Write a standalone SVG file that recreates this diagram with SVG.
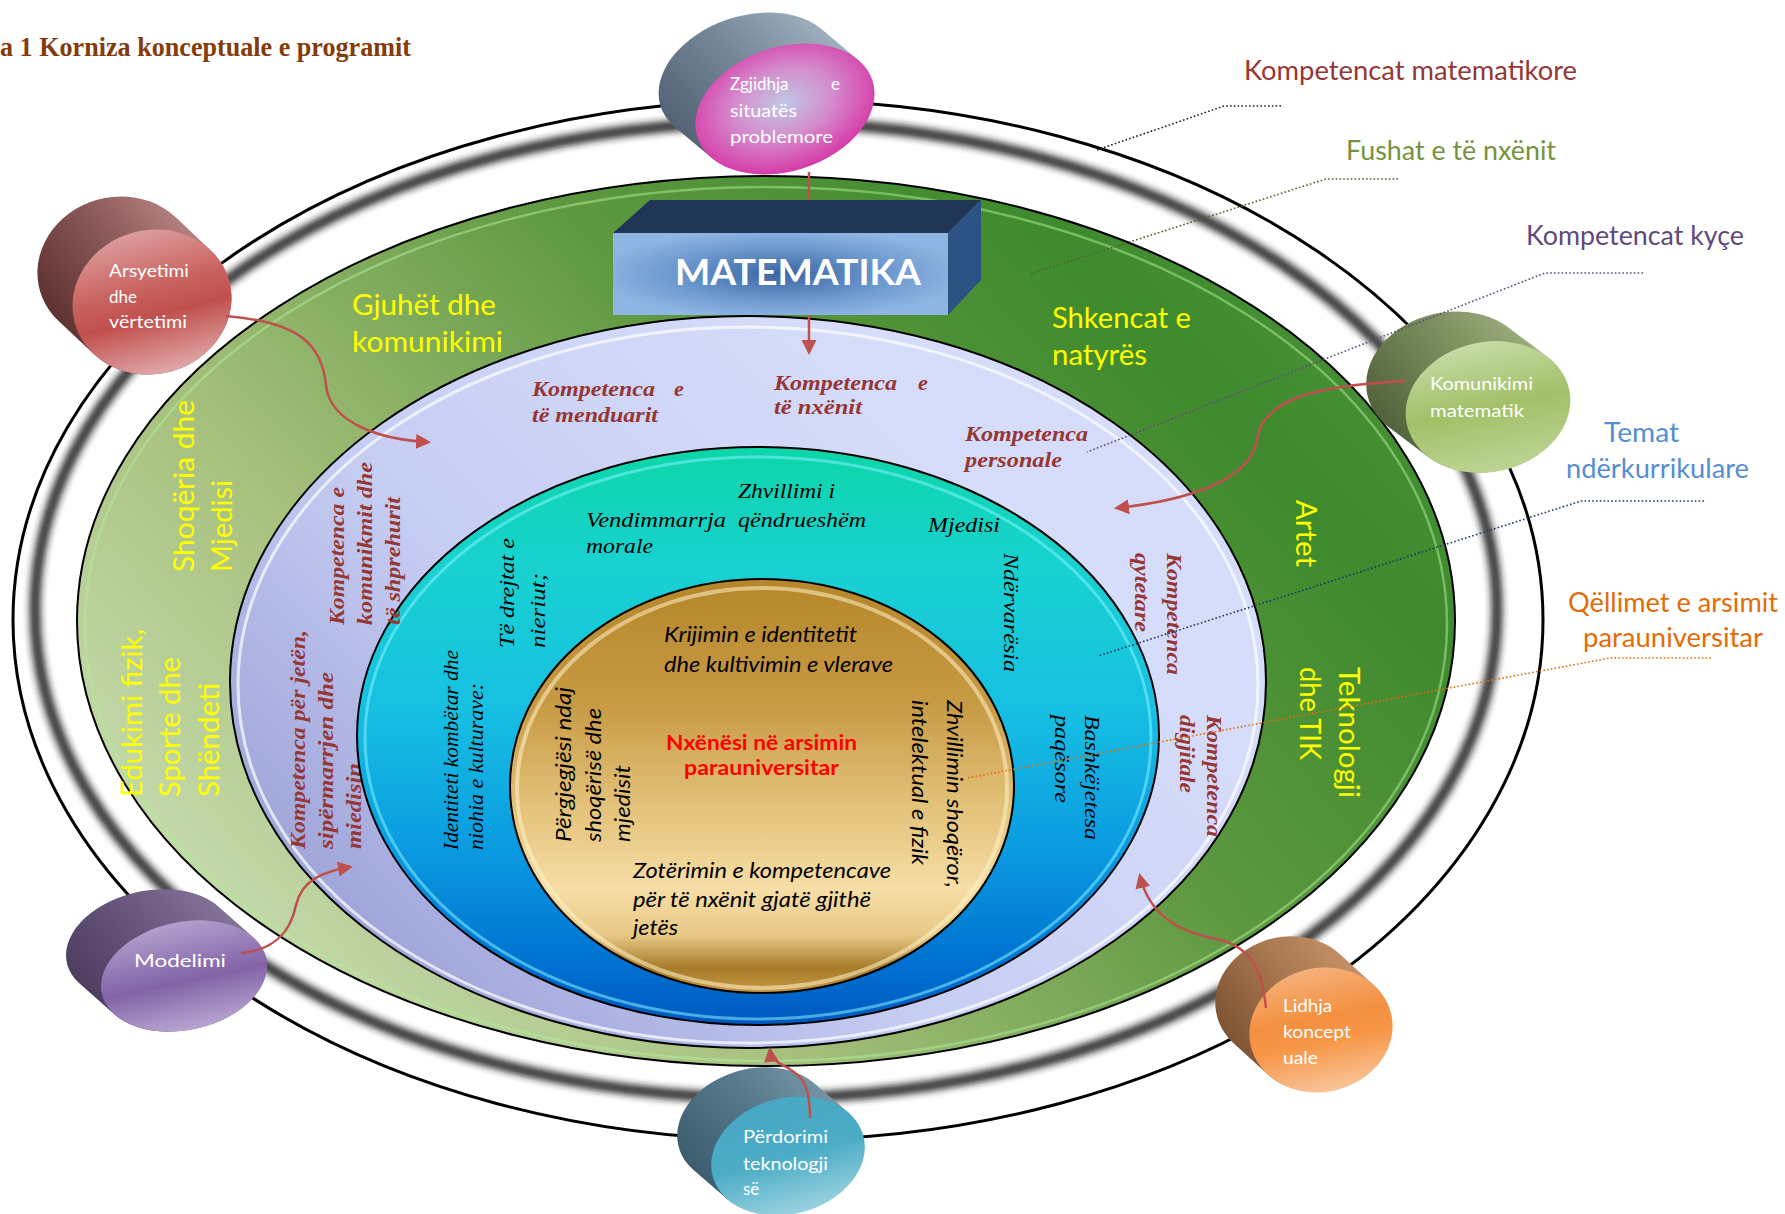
<svg xmlns="http://www.w3.org/2000/svg" width="1785" height="1214" viewBox="0 0 1785 1214">
<style>
.nt{font-family:Lato,"Open Sans",sans-serif;fill:#fff;font-size:17px}
.yl{font-family:Lato,"Open Sans",sans-serif;fill:#ffff00;font-size:28px}
.kr{font-family:"Liberation Serif",serif;font-weight:bold;font-style:italic;fill:#953735;font-size:22px}
.bi{font-family:"Liberation Serif",serif;font-style:italic;fill:#000;font-size:22px}
.gi{font-family:Lato,"Open Sans",sans-serif;font-style:italic;fill:#000;font-size:21px}
.rc{font-family:Lato,"Open Sans",sans-serif;font-weight:bold;fill:#ff0000;font-size:20px}
.rl{font-family:Lato,"Open Sans",sans-serif;font-size:26px}
.ring{stroke:#000;stroke-width:2}
.red{fill:none;stroke:#c0504d;stroke-width:2.5}
.dot{fill:none;stroke-width:1.6;stroke-dasharray:1.6 2.2}
</style>
<defs>
<marker id="arr" viewBox="0 0 10 10" refX="8" refY="5" markerWidth="6" markerHeight="6" orient="auto"><path d="M0,0 L10,5 L0,10 z" fill="#c0504d"/></marker>
<filter id="blur" x="-5%" y="-5%" width="110%" height="110%"><feGaussianBlur stdDeviation="3.5"/></filter>
<linearGradient id="gGreen" x1="0" y1="0.8" x2="1" y2="0.2"><stop offset="0" stop-color="#cde0b8"/><stop offset="0.3" stop-color="#a6c07c"/><stop offset="0.6" stop-color="#5d9840"/><stop offset="0.85" stop-color="#3f8a2e"/><stop offset="1" stop-color="#4a9238"/></linearGradient>
<linearGradient id="gLav" x1="0" y1="0.7" x2="0.7" y2="0.2"><stop offset="0" stop-color="#9ea3d8"/><stop offset="0.45" stop-color="#c6cdf3"/><stop offset="1" stop-color="#d6ddfa"/></linearGradient>
<linearGradient id="gBlue" x1="0" y1="0" x2="0" y2="1"><stop offset="0" stop-color="#0dd6a8"/><stop offset="0.2" stop-color="#18d2d0"/><stop offset="0.45" stop-color="#17c0e2"/><stop offset="0.7" stop-color="#0a9ae0"/><stop offset="0.9" stop-color="#0070d0"/><stop offset="1" stop-color="#0058c0"/></linearGradient>
<linearGradient id="gGold" x1="0" y1="0" x2="0" y2="1"><stop offset="0" stop-color="#b5862a"/><stop offset="0.3" stop-color="#c79a44"/><stop offset="0.55" stop-color="#e3c27a"/><stop offset="0.75" stop-color="#f6dea6"/><stop offset="0.86" stop-color="#e8c886"/><stop offset="0.94" stop-color="#a67a28"/><stop offset="1" stop-color="#c89a48"/></linearGradient>
<radialGradient id="boxFront" cx="0.5" cy="0.5" r="0.55"><stop offset="0" stop-color="#3a659f"/><stop offset="0.6" stop-color="#6f9ad0"/><stop offset="1" stop-color="#8fb5e2"/></radialGradient>
<radialGradient id="faceZ" cx="0.5" cy="0.45" r="0.55"><stop offset="0" stop-color="#c0c8e6"/><stop offset="0.5" stop-color="#d48ccc"/><stop offset="1" stop-color="#d63aa8"/></radialGradient>
<linearGradient id="bodyZ" x1="0" y1="0.6" x2="1" y2="0.2"><stop offset="0" stop-color="#4f5e70"/><stop offset="0.5" stop-color="#76889a"/><stop offset="1" stop-color="#aebdcc"/></linearGradient>
<linearGradient id="faceA" x1="0" y1="0" x2="0" y2="1"><stop offset="0" stop-color="#dc9c9c"/><stop offset="0.4" stop-color="#c9625f"/><stop offset="0.6" stop-color="#c0504d"/><stop offset="1" stop-color="#e0a8a8"/></linearGradient>
<linearGradient id="bodyA" x1="0" y1="0.6" x2="1" y2="0.2"><stop offset="0" stop-color="#5a2e2e"/><stop offset="0.5" stop-color="#8a5858"/><stop offset="1" stop-color="#c79090"/></linearGradient>
<linearGradient id="faceK" x1="0" y1="0" x2="0" y2="1"><stop offset="0" stop-color="#c5dba6"/><stop offset="0.5" stop-color="#a2c068"/><stop offset="1" stop-color="#bcd494"/></linearGradient>
<linearGradient id="bodyK" x1="0" y1="0.6" x2="1" y2="0.2"><stop offset="0" stop-color="#4e5e38"/><stop offset="0.5" stop-color="#7a8c5c"/><stop offset="1" stop-color="#a8b88a"/></linearGradient>
<linearGradient id="faceM" x1="0" y1="0" x2="0" y2="1"><stop offset="0" stop-color="#b2a0cc"/><stop offset="0.45" stop-color="#8a6eb0"/><stop offset="0.55" stop-color="#8264a6"/><stop offset="1" stop-color="#b8a5d2"/></linearGradient>
<linearGradient id="bodyM" x1="0" y1="0.6" x2="1" y2="0.2"><stop offset="0" stop-color="#4a3a5c"/><stop offset="0.5" stop-color="#6a5880"/><stop offset="1" stop-color="#8f7ea0"/></linearGradient>
<linearGradient id="faceP" x1="0" y1="0" x2="0" y2="1"><stop offset="0" stop-color="#48a8c4"/><stop offset="0.5" stop-color="#4bacc6"/><stop offset="1" stop-color="#9ad2e0"/></linearGradient>
<linearGradient id="bodyP" x1="0" y1="0.6" x2="1" y2="0.2"><stop offset="0" stop-color="#3a5a6a"/><stop offset="0.5" stop-color="#55788a"/><stop offset="1" stop-color="#7fa0b0"/></linearGradient>
<linearGradient id="faceL" x1="0" y1="0" x2="0" y2="1"><stop offset="0" stop-color="#f6b07a"/><stop offset="0.4" stop-color="#f39040"/><stop offset="0.6" stop-color="#f69646"/><stop offset="1" stop-color="#f9c49a"/></linearGradient>
<linearGradient id="bodyL" x1="0" y1="0.6" x2="1" y2="0.2"><stop offset="0" stop-color="#7a5030"/><stop offset="0.5" stop-color="#a87850"/><stop offset="1" stop-color="#d09a70"/></linearGradient>
</defs>
<rect width="1785" height="1214" fill="#fff"/>
<text x="0" y="56" font-family="Liberation Serif,serif" font-weight="bold" font-size="27" fill="#843c0c" textLength="411" lengthAdjust="spacingAndGlyphs">a 1 Korniza konceptuale e programit</text>

<g id="ring-outer">
<ellipse cx="778" cy="620" rx="765" ry="520" fill="#fff" stroke="#000" stroke-width="3"/>
<ellipse cx="766" cy="610" rx="731" ry="488" fill="none" stroke="#1a1a1a" stroke-width="11" opacity="0.9" filter="url(#blur)"/>
</g>
<g id="ring-fushat">
<ellipse class="ring" cx="766" cy="621" rx="689" ry="445" fill="url(#gGreen)"/>
<ellipse cx="766" cy="624" rx="681" ry="437" fill="none" stroke="#b0ee98" stroke-width="2.5" opacity="0.5"/>
<text class="yl" x="352" y="315" textLength="144" lengthAdjust="spacingAndGlyphs">Gjuhët dhe</text>
<text class="yl" x="352" y="352" textLength="151" lengthAdjust="spacingAndGlyphs">komunikimi</text>
<text class="yl" x="1052" y="328" textLength="139" lengthAdjust="spacingAndGlyphs">Shkencat e</text>
<text class="yl" x="1052" y="365" textLength="95" lengthAdjust="spacingAndGlyphs">natyrës</text>
<text class="yl" transform="translate(1296,500) rotate(90)" textLength="67" lengthAdjust="spacingAndGlyphs">Artet</text>
<text class="yl" transform="translate(1339,667) rotate(90)" textLength="131" lengthAdjust="spacingAndGlyphs">Teknologji</text>
<text class="yl" transform="translate(1300,667) rotate(90)" textLength="93" lengthAdjust="spacingAndGlyphs">dhe TIK</text>
<text class="yl" transform="translate(194,572) rotate(-90)" textLength="172" lengthAdjust="spacingAndGlyphs">Shoqëria dhe</text>
<text class="yl" transform="translate(232,572) rotate(-90)" textLength="92" lengthAdjust="spacingAndGlyphs">Mjedisi</text>
<text class="yl" transform="translate(142,797) rotate(-90)" textLength="168" lengthAdjust="spacingAndGlyphs">Edukimi fizik,</text>
<text class="yl" transform="translate(180,797) rotate(-90)" textLength="140" lengthAdjust="spacingAndGlyphs">Sporte dhe</text>
<text class="yl" transform="translate(219,797) rotate(-90)" textLength="114" lengthAdjust="spacingAndGlyphs">Shëndeti</text>
</g>
<g id="ring-kyce">
<ellipse class="ring" cx="748" cy="682" rx="518" ry="366" fill="url(#gLav)"/>
<ellipse cx="748" cy="685" rx="510" ry="358" fill="none" stroke="#fff" stroke-width="3" opacity="0.7"/>
<text class="kr" x="532" y="396" textLength="123" lengthAdjust="spacingAndGlyphs">Kompetenca</text>
<text class="kr" x="674" y="396">e</text>
<text class="kr" x="532" y="422" textLength="126" lengthAdjust="spacingAndGlyphs">të menduarit</text>
<text class="kr" x="774" y="390" textLength="123" lengthAdjust="spacingAndGlyphs">Kompetenca</text>
<text class="kr" x="918" y="390">e</text>
<text class="kr" x="774" y="414" textLength="88" lengthAdjust="spacingAndGlyphs">të nxënit</text>
<text class="kr" x="965" y="441" textLength="123" lengthAdjust="spacingAndGlyphs">Kompetenca</text>
<text class="kr" x="965" y="467" textLength="97" lengthAdjust="spacingAndGlyphs">personale</text>
<text class="kr" transform="translate(344,625) rotate(-90)" textLength="138" lengthAdjust="spacingAndGlyphs">Kompetenca e</text>
<text class="kr" transform="translate(372,625) rotate(-90)" textLength="163" lengthAdjust="spacingAndGlyphs">komunikmit dhe</text>
<text class="kr" transform="translate(305,849) rotate(-90)" textLength="219" lengthAdjust="spacingAndGlyphs">Kompetenca për jetën,</text>
<text class="kr" transform="translate(333,849) rotate(-90)" textLength="177" lengthAdjust="spacingAndGlyphs">sipërmarrjen  dhe</text>
<text class="kr" transform="translate(361,849) rotate(-90)" textLength="86" lengthAdjust="spacingAndGlyphs">miedisin</text>
<text class="kr" transform="translate(1167,553) rotate(90)" textLength="122" lengthAdjust="spacingAndGlyphs">Kompetenca</text>
<text class="kr" transform="translate(1135,553) rotate(90)" textLength="79" lengthAdjust="spacingAndGlyphs">qytetare</text>
<text class="kr" transform="translate(1207,715) rotate(90)" textLength="122" lengthAdjust="spacingAndGlyphs">Kompetenca</text>
<text class="kr" transform="translate(1180,715) rotate(90)" textLength="78" lengthAdjust="spacingAndGlyphs">digjitale</text>
</g>
<g id="ring-vlerat">
<ellipse class="ring" cx="758" cy="736" rx="401" ry="289" fill="url(#gBlue)"/>
<ellipse cx="758" cy="738" rx="393" ry="281" fill="none" stroke="#7ff2ff" stroke-width="3" opacity="0.55"/>
<text class="kr" transform="translate(400,625) rotate(-90)" textLength="128" lengthAdjust="spacingAndGlyphs">të shprehurit</text>
<text class="bi" x="586" y="527" textLength="140" lengthAdjust="spacingAndGlyphs">Vendimmarrja</text>
<text class="bi" x="586" y="553" textLength="67" lengthAdjust="spacingAndGlyphs">morale</text>
<text class="bi" x="738" y="498" textLength="97" lengthAdjust="spacingAndGlyphs">Zhvillimi i</text>
<text class="bi" x="738" y="527" textLength="128" lengthAdjust="spacingAndGlyphs">qëndrueshëm</text>
<text class="bi" x="928" y="532" textLength="72" lengthAdjust="spacingAndGlyphs">Mjedisi</text>
<text class="bi" transform="translate(1004,553) rotate(90)" textLength="119" lengthAdjust="spacingAndGlyphs">Ndërvarësia</text>
<text class="bi" transform="translate(1085,715) rotate(90)" textLength="125" lengthAdjust="spacingAndGlyphs">Bashkëjetesa</text>
<text class="bi" transform="translate(1055,715) rotate(90)" textLength="88" lengthAdjust="spacingAndGlyphs">paqësore</text>
<text class="bi" transform="translate(514,648) rotate(-90)" textLength="110" lengthAdjust="spacingAndGlyphs">Të drejtat e</text>
<text class="bi" transform="translate(545,648) rotate(-90)" textLength="75" lengthAdjust="spacingAndGlyphs">nieriut;</text>
<text class="bi" transform="translate(458,850) rotate(-90)" textLength="200" lengthAdjust="spacingAndGlyphs">Identiteti kombëtar dhe</text>
<text class="bi" transform="translate(483,850) rotate(-90)" textLength="167" lengthAdjust="spacingAndGlyphs">niohia e kulturave:</text>
</g>
<g id="ring-qellimet">
<ellipse class="ring" cx="762" cy="786" rx="252" ry="207" fill="url(#gGold)"/>
<ellipse cx="762" cy="788" rx="245" ry="200" fill="none" stroke="#fff3c8" stroke-width="4" opacity="0.55"/>
<text class="gi" x="664" y="642" textLength="193" lengthAdjust="spacingAndGlyphs">Krijimin e identitetit</text>
<text class="gi" x="664" y="672" textLength="229" lengthAdjust="spacingAndGlyphs">dhe kultivimin e vlerave</text>
<text class="rc" x="666" y="750" textLength="191" lengthAdjust="spacingAndGlyphs">Nxënësi në arsimin</text>
<text class="rc" x="684" y="775" textLength="155" lengthAdjust="spacingAndGlyphs">parauniversitar</text>
<text class="gi" x="633" y="878" textLength="258" lengthAdjust="spacingAndGlyphs">Zotërimin e kompetencave</text>
<text class="gi" x="633" y="907" textLength="238" lengthAdjust="spacingAndGlyphs">për të nxënit gjatë gjithë</text>
<text class="gi" x="633" y="935" textLength="45" lengthAdjust="spacingAndGlyphs">jetës</text>
<text class="gi" transform="translate(571,842) rotate(-90)" textLength="155" lengthAdjust="spacingAndGlyphs">Përgjegjësi ndaj</text>
<text class="gi" transform="translate(601,842) rotate(-90)" textLength="134" lengthAdjust="spacingAndGlyphs">shoqërisë dhe</text>
<text class="gi" transform="translate(630,842) rotate(-90)" textLength="77" lengthAdjust="spacingAndGlyphs">mjedisit</text>
<text class="gi" transform="translate(947,700) rotate(90)" textLength="188" lengthAdjust="spacingAndGlyphs">Zhvillimin shoqëror,</text>
<text class="gi" transform="translate(912,700) rotate(90)" textLength="165" lengthAdjust="spacingAndGlyphs">intelektual e fizik</text>
</g>

<g id="node-matematika">
<polygon points="613,233 650,200 981,200 948,233" fill="#213557"/>
<polygon points="948,233 981,200 981,280 948,315" fill="#2d5384"/>
<rect x="613" y="233" width="335" height="82" fill="url(#boxFront)"/>
<text x="675" y="285" font-family="Lato,'Open Sans',sans-serif" font-weight="bold" font-size="36" fill="#fff" textLength="246" lengthAdjust="spacingAndGlyphs">MATEMATIKA</text>
</g>

<g id="legend">
<text class="rl" x="1244" y="80" fill="#953735" textLength="333" lengthAdjust="spacingAndGlyphs">Kompetencat matematikore</text>
<text class="rl" x="1346" y="160" fill="#76923c" textLength="210" lengthAdjust="spacingAndGlyphs">Fushat e të nxënit</text>
<text class="rl" x="1526" y="245" fill="#5f497a" textLength="218" lengthAdjust="spacingAndGlyphs">Kompetencat kyçe</text>
<text class="rl" x="1604" y="442" fill="#558ed5" textLength="75" lengthAdjust="spacingAndGlyphs">Temat</text>
<text class="rl" x="1566" y="478" fill="#558ed5" textLength="183" lengthAdjust="spacingAndGlyphs">ndërkurrikulare</text>
<text class="rl" x="1568" y="612" fill="#e36c09" textLength="210" lengthAdjust="spacingAndGlyphs">Qëllimet e arsimit</text>
<text class="rl" x="1583" y="647" fill="#e36c09" textLength="180" lengthAdjust="spacingAndGlyphs">parauniversitar</text>
</g>

<g id="node-zgjidhja">
<g transform="translate(785,109) rotate(-18)">
<path d="M84.8,-24 L58.5,-66.2 A92,62 0 0 0 -111.1,-18.2 L-84.8,24 A92,62 0 0 0 84.8,-24 Z" fill="url(#bodyZ)"/>
<ellipse rx="92" ry="62" fill="url(#faceZ)"/>
</g>
<text class="nt" x="730" y="90">Zgjidhja <tspan x="831">e</tspan></text>
<text class="nt" x="730" y="117" textLength="67" lengthAdjust="spacingAndGlyphs">situatës</text>
<text class="nt" x="730" y="143" textLength="103" lengthAdjust="spacingAndGlyphs">problemore</text>
</g>
<g id="node-arsyetimi">
<g transform="translate(152,302) rotate(-15)">
<path d="M70,-34.9 L44.7,-75.9 A80,72 0 0 0 -95.3,-6 L-70,34.9 A80,72 0 0 0 70,-34.9 Z" fill="url(#bodyA)"/>
<ellipse rx="80" ry="72" fill="url(#faceA)"/>
</g>
<text class="nt" x="109" y="277" textLength="80" lengthAdjust="spacingAndGlyphs">Arsyetimi</text>
<text class="nt" x="109" y="303">dhe</text>
<text class="nt" x="109" y="328" textLength="78" lengthAdjust="spacingAndGlyphs">vërtetimi</text>
</g>
<g id="node-komunikimi">
<g transform="translate(1488,407) rotate(-12)">
<path d="M68.5,-36.7 L35.6,-74.4 A83,65 0 0 0 -101.4,-1 L-68.5,36.7 A83,65 0 0 0 68.5,-36.7 Z" fill="url(#bodyK)"/>
<ellipse rx="83" ry="65" fill="url(#faceK)"/>
</g>
<text class="nt" x="1430" y="390" textLength="103" lengthAdjust="spacingAndGlyphs">Komunikimi</text>
<text class="nt" x="1430" y="417" textLength="94" lengthAdjust="spacingAndGlyphs">matematik</text>
</g>
<g id="node-modelimi">
<g transform="translate(184,976) rotate(-12)">
<path d="M75.9,-23.2 L48.1,-60.8 A84,54 0 0 0 -103.7,-14.4 L-75.9,23.2 A84,54 0 0 0 75.9,-23.2 Z" fill="url(#bodyM)"/>
<ellipse rx="84" ry="54" fill="url(#faceM)"/>
</g>
<text class="nt" x="134" y="967" font-size="20" textLength="92" lengthAdjust="spacingAndGlyphs">Modelimi</text>
</g>
<g id="node-perdorimi">
<g transform="translate(788,1156) rotate(-15)">
<path d="M69.5,-26.3 L43.5,-64.4 A78,58 0 0 0 -95.5,-11.8 L-69.5,26.3 A78,58 0 0 0 69.5,-26.3 Z" fill="url(#bodyP)"/>
<ellipse rx="78" ry="58" fill="url(#faceP)"/>
</g>
<text class="nt" x="743" y="1143" textLength="85" lengthAdjust="spacingAndGlyphs">Përdorimi</text>
<text class="nt" x="743" y="1170" textLength="85" lengthAdjust="spacingAndGlyphs">teknologji</text>
<text class="nt" x="743" y="1195">së</text>
</g>
<g id="node-lidhja">
<g transform="translate(1321,1030) rotate(-12)">
<path d="M61.3,-32.5 L33.7,-71.1 A72,62 0 0 0 -88.9,-6.1 L-61.3,32.5 A72,62 0 0 0 61.3,-32.5 Z" fill="url(#bodyL)"/>
<ellipse rx="72" ry="62" fill="url(#faceL)"/>
</g>
<text class="nt" x="1283" y="1012" textLength="49" lengthAdjust="spacingAndGlyphs">Lidhja</text>
<text class="nt" x="1283" y="1038" textLength="68" lengthAdjust="spacingAndGlyphs">koncept</text>
<text class="nt" x="1283" y="1064" textLength="35" lengthAdjust="spacingAndGlyphs">uale</text>
</g>

<g id="connectors">
<path class="dot" stroke="#222" d="M1281,106 H1224 L1097,150"/>
<path class="dot" stroke="#4f6228" d="M1398,179 H1326 L1030,274"/>
<path class="dot" stroke="#604a7b" d="M1643,273 H1545 L1087,452"/>
<path class="dot" stroke="#1f3864" d="M1704,501 H1581 L1098,656"/>
<path class="dot" stroke="#e46c0a" d="M1711,658 H1610 L967,778"/>
<path class="red" d="M809,172 V200"/>
<path class="red" d="M809,315 V352" marker-end="url(#arr)"/>
<path class="red" d="M226,316 C300,322 322,345 326,385 C330,425 385,440 428,442" marker-end="url(#arr)"/>
<path class="red" d="M1406,381 C1320,385 1262,398 1257,440 C1250,480 1190,500 1117,508" marker-end="url(#arr)"/>
<path class="red" d="M241,953 C272,950 290,935 296,905 C302,880 322,872 350,867" marker-end="url(#arr)"/>
<path class="red" d="M810,1118 C810,1082 800,1075 788,1068 C776,1062 771,1058 770,1050" marker-end="url(#arr)"/>
<path class="red" d="M1266,1008 C1262,970 1252,945 1212,938 C1172,930 1148,910 1140,876" marker-end="url(#arr)"/>
</g>
</svg>
